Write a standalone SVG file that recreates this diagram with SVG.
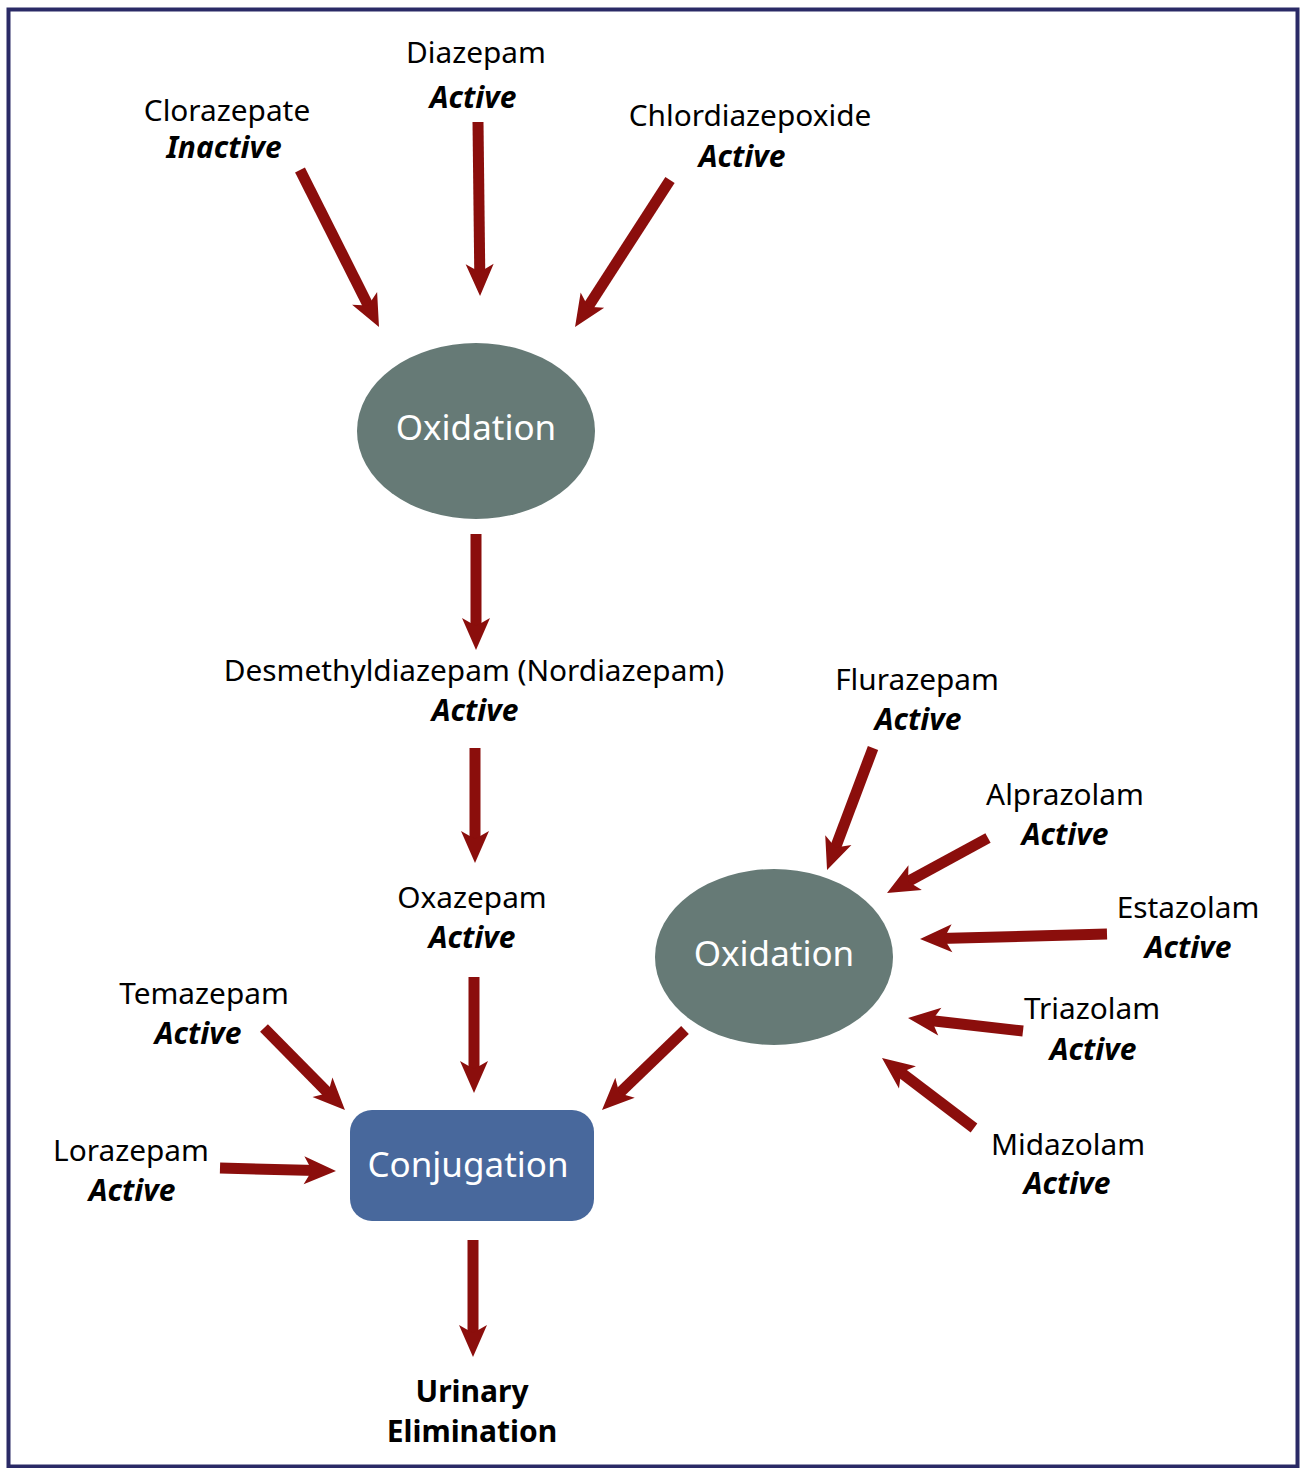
<svg xmlns="http://www.w3.org/2000/svg" width="1300" height="1468" viewBox="0 0 1300 1468">
<style>
.lbl{font-family:"Noto Sans","Open Sans","Liberation Sans",sans-serif;font-size:29.8px;fill:#000;text-anchor:middle}
.act{font-family:"Noto Sans","Open Sans","Liberation Sans",sans-serif;font-size:30px;font-weight:bold;font-style:italic;fill:#000;text-anchor:middle}
.node{font-family:"Noto Sans","Open Sans","Liberation Sans",sans-serif;font-size:35px;fill:#fff;text-anchor:middle}
.end{font-family:"Noto Sans","Open Sans","Liberation Sans",sans-serif;font-size:30px;font-weight:bold;fill:#000;text-anchor:middle}
.arr{stroke:#8b0e0c;stroke-width:11;fill:none;marker-end:url(#ah)}
</style>
<defs>
<marker id="ah" markerUnits="userSpaceOnUse" markerWidth="40" markerHeight="32" viewBox="0 -16 34 32" refX="12" refY="0" orient="auto">
<path d="M0,-14 L32,0 L0,14 L8,0 Z" fill="#8b0e0c"/>
</marker>
</defs>
<rect x="0" y="0" width="1300" height="1468" fill="#fff"/>
<rect x="8.5" y="9.5" width="1289" height="1457" fill="none" stroke="#2a2a66" stroke-width="4"/>

<g id="connectors">
<line class="arr" x1="300" y1="170" x2="370.0" y2="309.1"/>
<line class="arr" x1="478" y1="122" x2="479.8" y2="276"/>
<line class="arr" x1="670" y1="180" x2="585.9" y2="310.2"/>
<line class="arr" x1="476" y1="534" x2="476" y2="630"/>
<line class="arr" x1="475" y1="748" x2="475" y2="843"/>
<line class="arr" x1="474" y1="977" x2="474" y2="1073"/>
<line class="arr" x1="264" y1="1028" x2="330.9" y2="1095.8"/>
<line class="arr" x1="220" y1="1168" x2="316" y2="1170.5"/>
<line class="arr" x1="685" y1="1030" x2="616.4" y2="1096.1"/>
<line class="arr" x1="473" y1="1240" x2="473" y2="1337"/>
<line class="arr" x1="873" y1="748" x2="834.1" y2="851.3"/>
<line class="arr" x1="988" y1="838" x2="904.6" y2="883.4"/>
<line class="arr" x1="1107" y1="934" x2="940" y2="938.5"/>
<line class="arr" x1="1023" y1="1031" x2="927.9" y2="1020.2"/>
<line class="arr" x1="974" y1="1128" x2="897.9" y2="1070.1"/>
</g>

<g id="clorazepate"><text class="lbl" x="227" y="121">Clorazepate</text><text class="act" x="224" y="158">Inactive</text></g>
<g id="diazepam"><text class="lbl" x="476" y="63">Diazepam</text><text class="act" x="473" y="108">Active</text></g>
<g id="chlordiazepoxide"><text class="lbl" x="750" y="126">Chlordiazepoxide</text><text class="act" x="742" y="167">Active</text></g>

<g id="oxidation1"><ellipse cx="476" cy="431" rx="119" ry="88" fill="#667a76"/><text class="node" x="476" y="440">Oxidation</text></g>

<g id="desmethyldiazepam"><text class="lbl" x="474" y="681">Desmethyldiazepam (Nordiazepam)</text><text class="act" x="475" y="721">Active</text></g>
<g id="oxazepam"><text class="lbl" x="472" y="908">Oxazepam</text><text class="act" x="472" y="948">Active</text></g>

<g id="flurazepam"><text class="lbl" x="917" y="690">Flurazepam</text><text class="act" x="918" y="730">Active</text></g>
<g id="alprazolam"><text class="lbl" x="1065" y="805">Alprazolam</text><text class="act" x="1065" y="845">Active</text></g>
<g id="estazolam"><text class="lbl" x="1188" y="918">Estazolam</text><text class="act" x="1188" y="958">Active</text></g>
<g id="triazolam"><text class="lbl" x="1092" y="1019">Triazolam</text><text class="act" x="1093" y="1060">Active</text></g>
<g id="midazolam"><text class="lbl" x="1068" y="1155">Midazolam</text><text class="act" x="1067" y="1194">Active</text></g>

<g id="oxidation2"><ellipse cx="774" cy="957" rx="119" ry="88" fill="#667a76"/><text class="node" x="774" y="966">Oxidation</text></g>

<g id="temazepam"><text class="lbl" x="204" y="1004">Temazepam</text><text class="act" x="198" y="1044">Active</text></g>
<g id="lorazepam"><text class="lbl" x="131" y="1161">Lorazepam</text><text class="act" x="132" y="1201">Active</text></g>

<g id="conjugation"><rect x="350" y="1110" width="244" height="111" rx="22" fill="#48689c"/><text class="node" x="468" y="1177">Conjugation</text></g>

<g id="urinary"><text class="end" x="472" y="1402">Urinary</text><text class="end" x="472" y="1442">Elimination</text></g>
</svg>
